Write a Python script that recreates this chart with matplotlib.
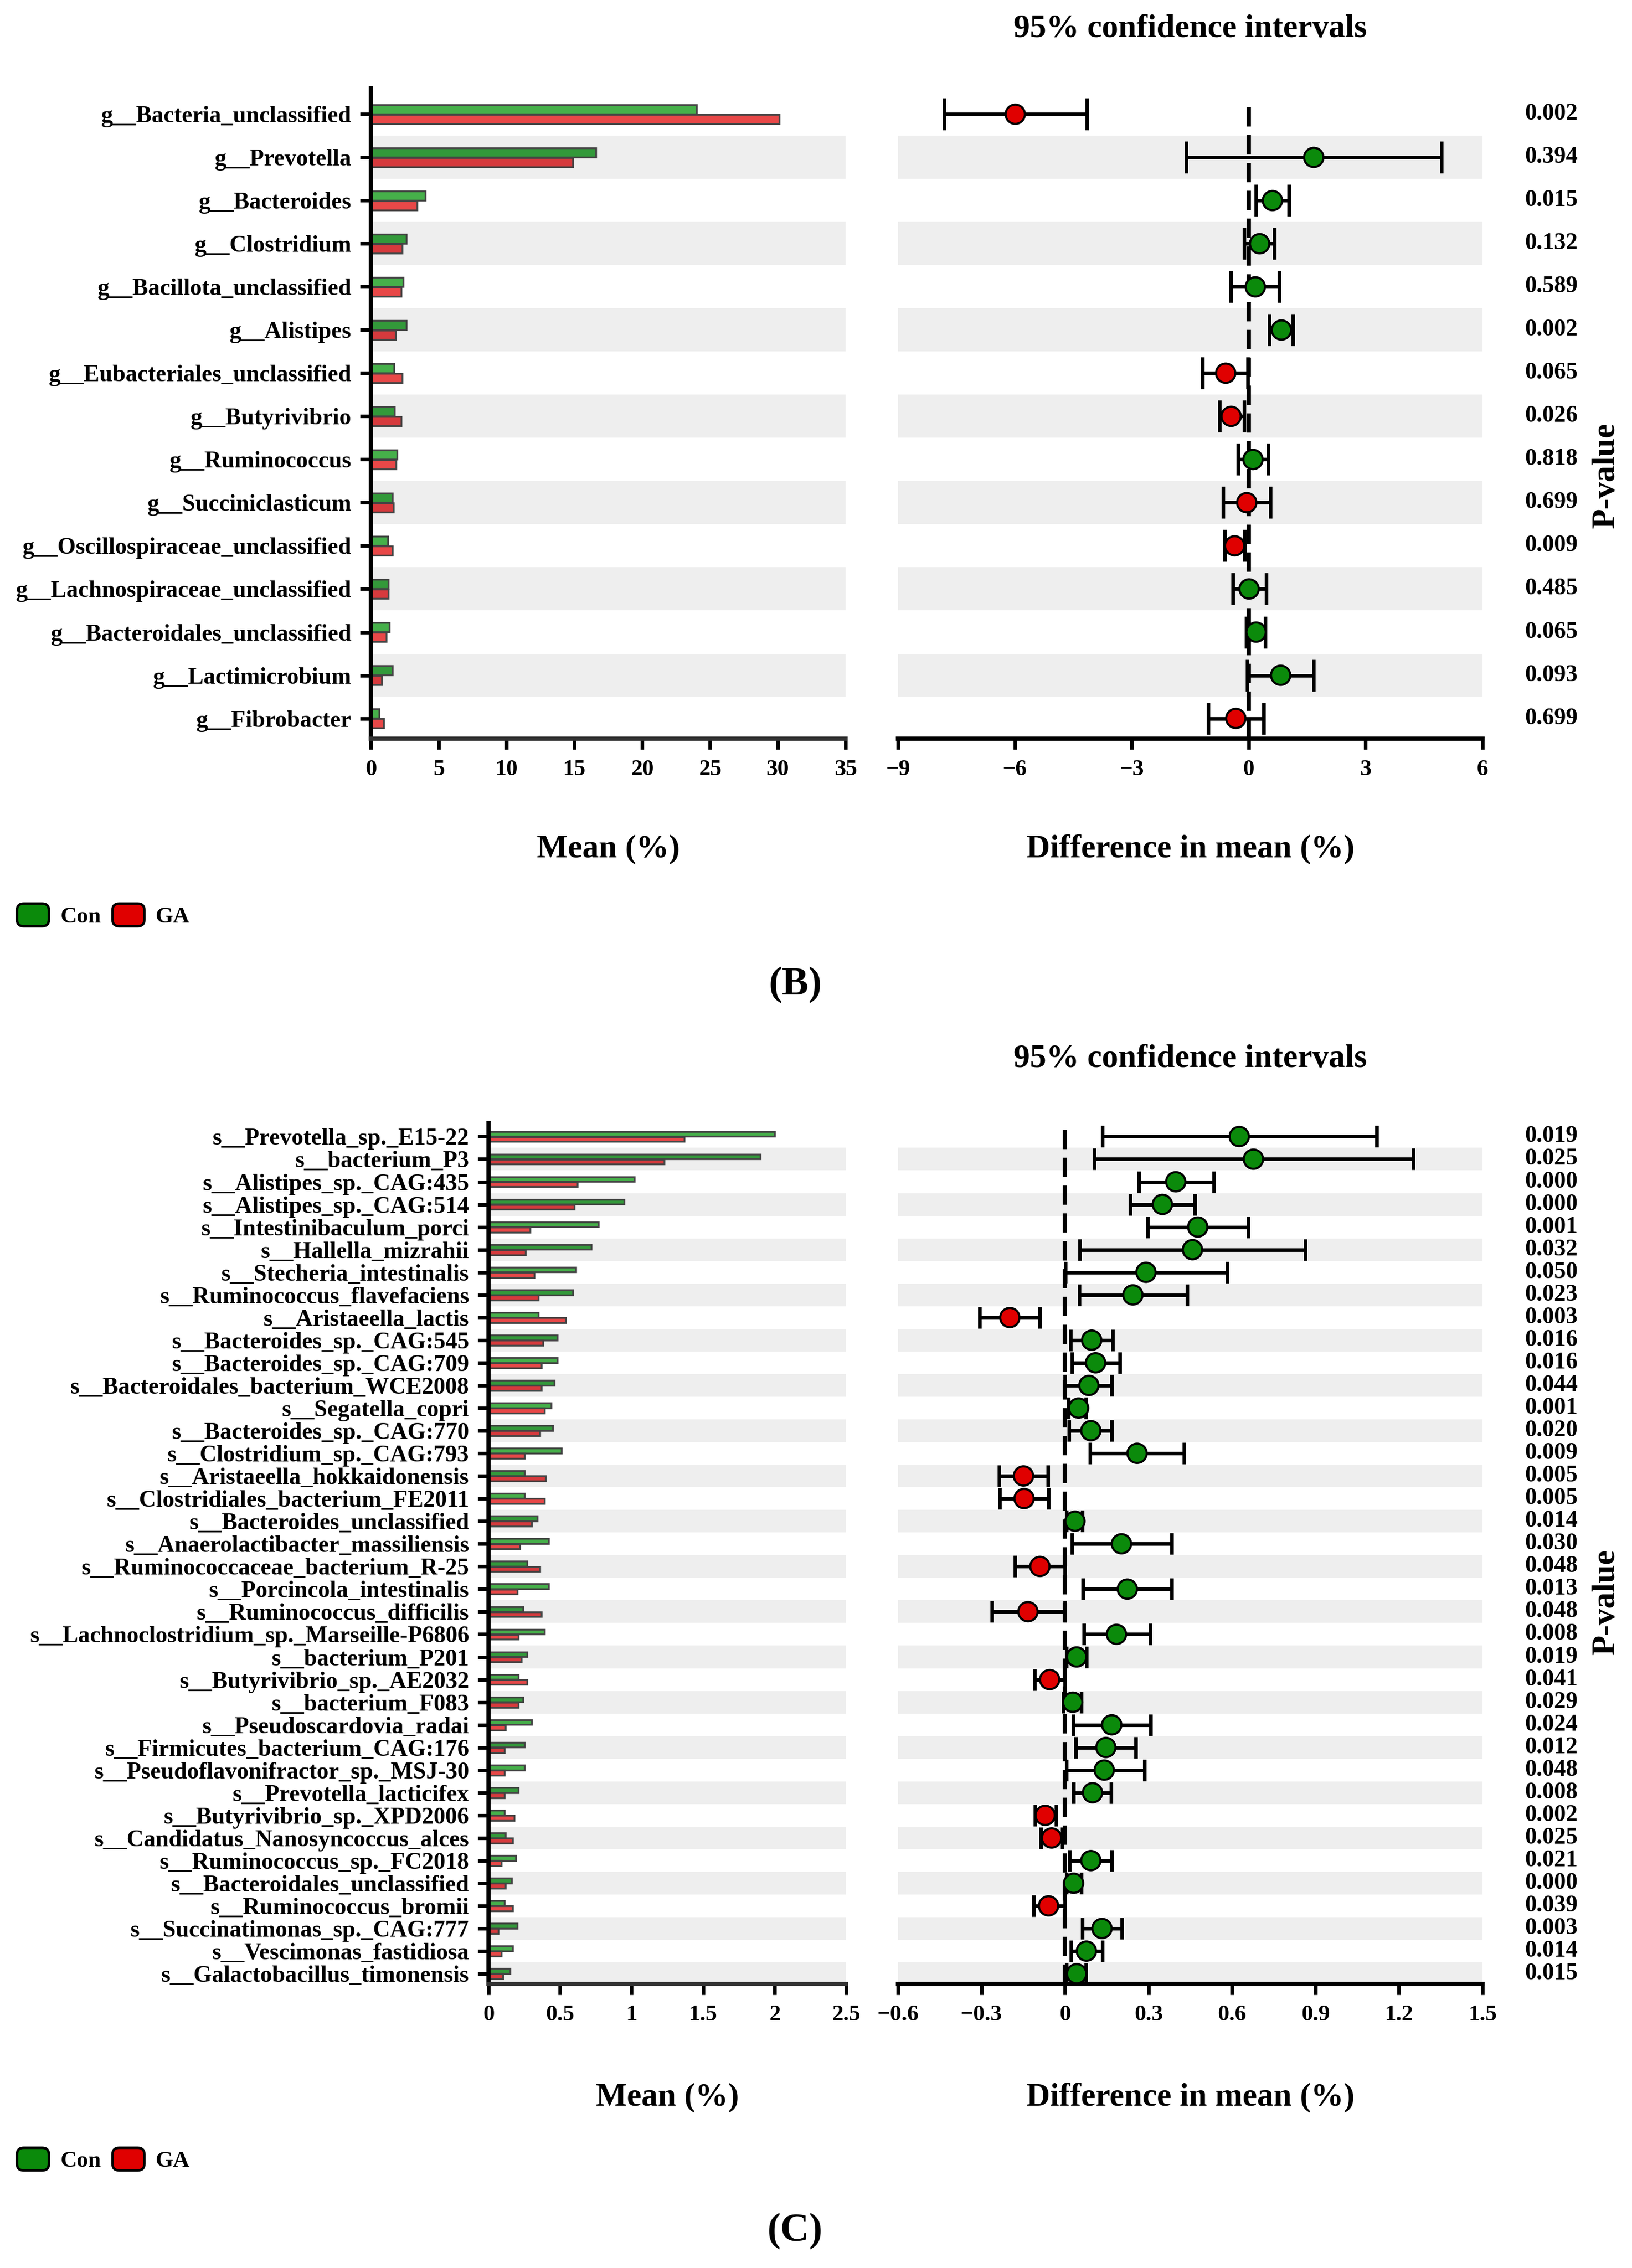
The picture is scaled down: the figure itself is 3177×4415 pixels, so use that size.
import matplotlib
matplotlib.use('Agg')
import matplotlib.pyplot as plt
import matplotlib.transforms as mtransforms
from matplotlib.patches import FancyBboxPatch, Patch
from matplotlib.legend_handler import HandlerPatch
from matplotlib.ticker import FixedLocator, FuncFormatter
import numpy as np

plt.rcParams['font.family'] = ['Liberation Serif', 'DejaVu Serif']
plt.rcParams['font.weight'] = 'bold'
plt.rcParams['axes.unicode_minus'] = True

# ---------------- Panel B data (genus level) ----------------
genus_labels = [
    'g__Bacteria_unclassified', 'g__Prevotella', 'g__Bacteroides', 'g__Clostridium',
    'g__Bacillota_unclassified', 'g__Alistipes', 'g__Eubacteriales_unclassified',
    'g__Butyrivibrio', 'g__Ruminococcus', 'g__Succiniclasticum',
    'g__Oscillospiraceae_unclassified', 'g__Lachnospiraceae_unclassified',
    'g__Bacteroidales_unclassified', 'g__Lactimicrobium', 'g__Fibrobacter']
genus_con = [24.0, 16.6, 4.0, 2.6, 2.4, 2.6, 1.7, 1.75, 1.95, 1.6, 1.25, 1.3, 1.35, 1.6, 0.6]
genus_ga = [30.1, 14.9, 3.4, 2.3, 2.25, 1.8, 2.3, 2.25, 1.85, 1.65, 1.6, 1.3, 1.15, 0.8, 0.95]
genus_diff = [-5.99, 1.67, 0.61, 0.28, 0.17, 0.84, -0.59, -0.45, 0.11, -0.05, -0.36, 0.01, 0.19, 0.82, -0.33]
genus_ci_low = [-7.82, -1.60, 0.19, -0.11, -0.46, 0.53, -1.18, -0.75, -0.27, -0.66, -0.62, -0.41, -0.06, -0.04, -1.04]
genus_ci_high = [-4.15, 4.94, 1.03, 0.66, 0.78, 1.14, -0.02, -0.12, 0.51, 0.56, -0.10, 0.45, 0.43, 1.67, 0.38]
genus_pvalues = ['0.002', '0.394', '0.015', '0.132', '0.589', '0.002', '0.065', '0.026',
                 '0.818', '0.699', '0.009', '0.485', '0.065', '0.093', '0.699']
genus_mean_ticks = [0, 5, 10, 15, 20, 25, 30, 35]
genus_diff_ticks = [-9, -6, -3, 0, 3, 6]

# ---------------- Panel C data (species level) ----------------
species_labels = [
    's__Prevotella_sp._E15-22', 's__bacterium_P3', 's__Alistipes_sp._CAG:435',
    's__Alistipes_sp._CAG:514', 's__Intestinibaculum_porci', 's__Hallella_mizrahii',
    's__Stecheria_intestinalis', 's__Ruminococcus_flavefaciens', 's__Aristaeella_lactis',
    's__Bacteroides_sp._CAG:545', 's__Bacteroides_sp._CAG:709',
    's__Bacteroidales_bacterium_WCE2008', 's__Segatella_copri', 's__Bacteroides_sp._CAG:770',
    's__Clostridium_sp._CAG:793', 's__Aristaeella_hokkaidonensis',
    's__Clostridiales_bacterium_FE2011', 's__Bacteroides_unclassified',
    's__Anaerolactibacter_massiliensis', 's__Ruminococcaceae_bacterium_R-25',
    's__Porcincola_intestinalis', 's__Ruminococcus_difficilis',
    's__Lachnoclostridium_sp._Marseille-P6806', 's__bacterium_P201',
    's__Butyrivibrio_sp._AE2032', 's__bacterium_F083', 's__Pseudoscardovia_radai',
    's__Firmicutes_bacterium_CAG:176', 's__Pseudoflavonifractor_sp._MSJ-30',
    's__Prevotella_lacticifex', 's__Butyrivibrio_sp._XPD2006',
    's__Candidatus_Nanosyncoccus_alces', 's__Ruminococcus_sp._FC2018',
    's__Bacteroidales_unclassified', 's__Ruminococcus_bromii',
    's__Succinatimonas_sp._CAG:777', 's__Vescimonas_fastidiosa',
    's__Galactobacillus_timonensis']
species_con = [2.00, 1.90, 1.02, 0.95, 0.77, 0.72, 0.61, 0.59, 0.35, 0.48, 0.48, 0.46, 0.44,
               0.45, 0.51, 0.25, 0.25, 0.34, 0.42, 0.27, 0.42, 0.24, 0.39, 0.27, 0.21, 0.24,
               0.30, 0.25, 0.25, 0.21, 0.11, 0.12, 0.19, 0.16, 0.11, 0.20, 0.17, 0.15]
species_ga = [1.37, 1.23, 0.62, 0.60, 0.29, 0.26, 0.32, 0.35, 0.54, 0.38, 0.37, 0.37, 0.39,
              0.36, 0.25, 0.40, 0.39, 0.30, 0.22, 0.36, 0.20, 0.37, 0.21, 0.23, 0.27, 0.21,
              0.12, 0.11, 0.11, 0.11, 0.18, 0.17, 0.09, 0.12, 0.17, 0.07, 0.09, 0.10]
species_diff = [0.626, 0.677, 0.398, 0.350, 0.477, 0.458, 0.291, 0.244, -0.198, 0.096, 0.110,
                0.086, 0.049, 0.093, 0.259, -0.149, -0.147, 0.036, 0.203, -0.090, 0.224,
                -0.133, 0.185, 0.042, -0.055, 0.028, 0.168, 0.147, 0.141, 0.099, -0.071,
                -0.048, 0.093, 0.031, -0.059, 0.133, 0.077, 0.042]
species_ci_low = [0.134, 0.104, 0.265, 0.234, 0.296, 0.054, 0.001, 0.051, -0.306, 0.020, 0.025,
                  -0.001, 0.013, 0.015, 0.091, -0.236, -0.235, 0.006, 0.025, -0.179, 0.065,
                  -0.262, 0.068, 0.005, -0.109, -0.006, 0.030, 0.038, 0.005, 0.031, -0.108,
                  -0.087, 0.016, 0.005, -0.113, 0.063, 0.021, 0.005]
species_ci_high = [1.120, 1.250, 0.534, 0.467, 0.658, 0.864, 0.582, 0.439, -0.090, 0.171, 0.197,
                   0.168, 0.076, 0.168, 0.427, -0.062, -0.060, 0.063, 0.384, -0.001, 0.384,
                   -0.001, 0.306, 0.077, -0.001, 0.058, 0.307, 0.255, 0.286, 0.166, -0.032,
                   -0.010, 0.168, 0.058, -0.001, 0.204, 0.134, 0.075]
species_pvalues = ['0.019', '0.025', '0.000', '0.000', '0.001', '0.032', '0.050', '0.023',
                   '0.003', '0.016', '0.016', '0.044', '0.001', '0.020', '0.009', '0.005',
                   '0.005', '0.014', '0.030', '0.048', '0.013', '0.048', '0.008', '0.019',
                   '0.041', '0.029', '0.024', '0.012', '0.048', '0.008', '0.002', '0.025',
                   '0.021', '0.000', '0.039', '0.003', '0.014', '0.015']
species_mean_ticks = [0, 0.5, 1, 1.5, 2, 2.5]
species_diff_ticks = [-0.6, -0.3, 0, 0.3, 0.6, 0.9, 1.2, 1.5]

group_names = ['Con', 'GA']

# ---------------- styling ----------------
W, H = 3177, 4415
fig = plt.figure(figsize=(W / 100, H / 100), dpi=100)

BAND = '#eeeeee'
BAR_GREEN = ('#46b04a', '#33993a')
BAR_RED = ('#e84848', '#d63a3d')
DOT_GREEN = '#0b8a0b'
DOT_RED = '#e00000'
LABEL_FS = 33
TICK_FS = 32
AXLABEL_FS = 46


def fmt_tick(v, pos=None):
    s = f'{v:g}'
    return s.replace('-', '\u2212')


def px_rect(x0, x1, ytop, ybot):
    return [x0 / W, 1 - ybot / H, (x1 - x0) / W, (ybot - ytop) / H]


def draw_panel(mean_rect, ci_rect, labels, con, ga, diff, lo, hi, pvals,
               mean_lim, mean_ticks, ci_lim, ci_ticks, top_pad, bot_pad,
               capsize, dash_top, title_y, xlabel_y, plabel_y):
    n = len(labels)
    y = np.arange(n)
    ylim = (n - 1 + bot_pad, -top_pad)

    axm = fig.add_axes(mean_rect)
    axc = fig.add_axes(ci_rect)

    for ax in (axm, axc):
        for i in range(n):
            if i % 2 == 1:
                ax.axhspan(i - 0.5, i + 0.5, color=BAND, zorder=0, lw=0)
        ax.set_ylim(*ylim)
        for s in ('top', 'right'):
            ax.spines[s].set_visible(False)

    # ---- mean bars ----
    gcol = [BAR_GREEN[i % 2] for i in range(n)]
    rcol = [BAR_RED[i % 2] for i in range(n)]
    axm.barh(y - 0.115, con, height=0.22, color=gcol, edgecolor='#444444',
             linewidth=2.5, zorder=2, label=group_names[0])
    axm.barh(y + 0.115, ga, height=0.22, color=rcol, edgecolor='#444444',
             linewidth=2.5, zorder=2, label=group_names[1])
    axm.set_xlim(*mean_lim)
    axm.xaxis.set_major_locator(FixedLocator(mean_ticks))
    axm.xaxis.set_major_formatter(FuncFormatter(fmt_tick))
    axm.set_yticks(y)
    axm.set_yticklabels(labels)
    axm.spines['left'].set_linewidth(6)
    axm.spines['left'].set_color('black')
    axm.spines['bottom'].set_linewidth(6)
    axm.spines['bottom'].set_color('#333333')
    axm.tick_params(axis='y', length=15, width=5, pad=12, labelsize=LABEL_FS, color='black')
    axm.tick_params(axis='x', length=15, width=5, pad=14, labelsize=TICK_FS, color='black')
    axm.set_xlabel('Mean (%)', fontsize=AXLABEL_FS, fontweight='bold')
    axm.xaxis.label.set_va('center')
    axm.xaxis.set_label_coords(0.5, xlabel_y)

    # ---- CI panel ----
    diff = np.asarray(diff)
    lo = np.asarray(lo)
    hi = np.asarray(hi)
    axc.set_xlim(*ci_lim)
    axc.axvline(0, ymin=0, ymax=dash_top, color='black', lw=6,
                linestyle=(0, (4.5, 2.0)), zorder=2)
    axc.errorbar(diff, y, xerr=[diff - lo, hi - diff], fmt='none', ecolor='black',
                 elinewidth=5, capsize=capsize, capthick=5, zorder=3)
    dot_cols = [DOT_GREEN if d > 0 else DOT_RED for d in diff]
    axc.scatter(diff, y, s=27 ** 2, c=dot_cols, edgecolors='black', linewidths=3, zorder=4)
    axc.spines['left'].set_visible(False)
    axc.spines['bottom'].set_linewidth(6)
    axc.spines['bottom'].set_color('black')
    axc.set_yticks([])
    axc.xaxis.set_major_locator(FixedLocator(ci_ticks))
    axc.xaxis.set_major_formatter(FuncFormatter(fmt_tick))
    axc.tick_params(axis='x', length=15, width=5, pad=14, labelsize=TICK_FS, color='black')
    axc.set_xlabel('Difference in mean (%)', fontsize=AXLABEL_FS, fontweight='bold')
    axc.xaxis.label.set_va('center')
    axc.xaxis.set_label_coords(0.5, xlabel_y)
    axc.text(0.5, title_y, '95% confidence intervals', transform=axc.transAxes,
             ha='center', va='center', fontsize=AXLABEL_FS, fontweight='bold', clip_on=False)

    trans = mtransforms.blended_transform_factory(fig.transFigure, axc.transData)
    for yi, p in zip(y, pvals):
        axc.text(3020 / W, yi, p, transform=trans, ha='center', va='center',
                 fontsize=LABEL_FS, fontweight='bold', clip_on=False)
    axc.yaxis.set_label_position('right')
    axc.set_ylabel('P-value', fontsize=AXLABEL_FS, fontweight='bold', rotation=90)
    axc.yaxis.label.set_va('center')
    axc.yaxis.set_label_coords((3127 - 1748) / (2886 - 1748), plabel_y)
    return axm, axc


# Panel B
b_top, b_bot = 172, 1438
axm_b, axc_b = draw_panel(
    px_rect(722, 1646, b_top, b_bot), px_rect(1748, 2886, b_top, b_bot),
    genus_labels, genus_con, genus_ga, genus_diff, genus_ci_low, genus_ci_high,
    genus_pvalues, (0, 35), genus_mean_ticks, (-9, 6), genus_diff_ticks,
    top_pad=0.6, bot_pad=0.47, capsize=22,
    dash_top=(14.47 + 0.33) / (14.47 + 0.6),
    title_y=(b_bot - 57) / (b_bot - b_top),
    xlabel_y=(b_bot - 1653) / (b_bot - b_top),
    plabel_y=(b_bot - 925) / (b_bot - b_top))

# Panel C
c_top, c_bot = 2186, 3862
axm_c, axc_c = draw_panel(
    px_rect(951, 1647, c_top, c_bot), px_rect(1748, 2886, c_top, c_bot),
    species_labels, species_con, species_ga, species_diff, species_ci_low,
    species_ci_high, species_pvalues, (0, 2.5), species_mean_ticks, (-0.6, 1.5),
    species_diff_ticks, top_pad=0.6, bot_pad=0.45, capsize=15, dash_top=1.0,
    title_y=(c_bot - 2062) / (c_bot - c_top),
    xlabel_y=(c_bot - 4083) / (c_bot - c_top),
    plabel_y=(c_bot - 3118) / (c_bot - c_top))


# ---------------- legends ----------------
class HandlerRound(HandlerPatch):
    def create_artists(self, legend, orig_handle, xdescent, ydescent, width, height,
                       fontsize, trans):
        p = FancyBboxPatch((-xdescent, -ydescent), width, height,
                           boxstyle=f'round,pad=0,rounding_size={height * 0.3}',
                           facecolor=orig_handle.get_facecolor(), edgecolor='black',
                           linewidth=3.5, transform=trans)
        return [p]


handles = [Patch(facecolor=DOT_GREEN, label=group_names[0]),
           Patch(facecolor=DOT_RED, label=group_names[1])]
for ly in (1782, 4204):
    fig.legend(handles=handles, loc='center left', bbox_to_anchor=(33 / W, 1 - ly / H),
               ncol=2, frameon=False, fontsize=32, handlelength=1.4, handleheight=1.15,
               handletextpad=0.5, columnspacing=0.5, borderpad=0, borderaxespad=0,
               handler_map={Patch: HandlerRound()},
               prop={'weight': 'bold', 'size': 32})

fig.text(1548 / W, 1 - 1918 / H, '(B)', ha='center', va='center', fontsize=56, fontweight='bold')
fig.text(1548 / W, 1 - 4344 / H, '(C)', ha='center', va='center', fontsize=56, fontweight='bold')

fig.savefig('out.png', dpi=100, facecolor='white')
